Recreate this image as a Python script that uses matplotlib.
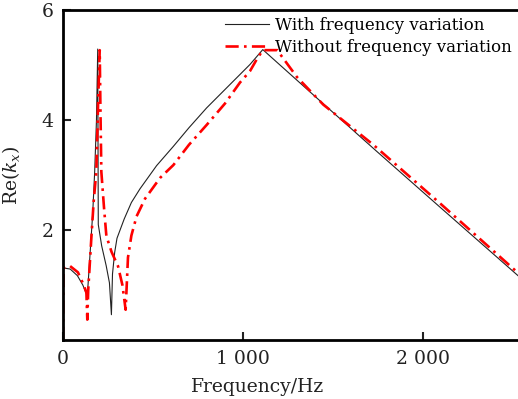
import numpy as np
import matplotlib.pyplot as plt
from matplotlib.ticker import FuncFormatter

# with frequency variation (black)
f_with = [0, 3, 40, 80, 110, 135, 150, 165, 176, 186, 193, 196, 215, 240, 258, 269,
          275, 287, 300, 340, 380, 428, 520, 613, 700, 798, 920, 1039, 1110,
          1400, 1743, 2100, 2528]
k_with = [0.0, 1.31, 1.29, 1.17, 1.0, 0.80, 1.55, 2.3, 3.06, 4.0, 5.29, 2.1, 1.71, 1.35, 1.04, 0.46,
          1.2, 1.59, 1.85, 2.2, 2.5, 2.75, 3.17, 3.52, 3.86, 4.22, 4.62, 5.01, 5.28,
          4.43, 3.43, 2.40, 1.17]

# without frequency variation (red)
f_without = [0, 3, 37, 83, 115, 130, 135, 140, 157, 170, 185, 195, 204, 208, 213, 228, 241,
             270, 306, 330, 348, 361, 380, 409, 456, 540, 613, 700, 798, 900, 983, 1039,
             1076, 1110, 1190, 1300, 1446, 1724, 2100, 2528]
k_without = [0.0, 1.31, 1.35, 1.23, 1.0, 0.86, 0.37, 0.9, 1.83, 2.5, 3.06, 4.3, 5.27, 4.2, 3.06, 2.4, 1.89,
             1.6, 1.34, 1.0, 0.55, 1.5, 1.9, 2.25, 2.57, 2.95, 3.18, 3.55, 3.91, 4.3, 4.68, 4.89,
             5.10, 5.27, 5.27, 4.78, 4.28, 3.55, 2.47, 1.22]

xticks = [0, 1000, 2000]
yticks = [2, 4, 6]

plt.rcParams['font.family'] = 'DejaVu Serif'
plt.rcParams['mathtext.fontset'] = 'dejavuserif'

fig = plt.figure(figsize=(5.18, 3.99), dpi=100)
ax = fig.add_axes([63 / 518, 59 / 399, 455 / 518, 330 / 399])

ax.plot(f_with, k_with, color='#222222', lw=0.8, label='With frequency variation')
ax.plot(f_without, k_without, color='red', lw=1.9, linestyle=(0, (5, 2, 1, 2)),
        label='Without frequency variation')

ax.set_xlim(0, 2528)
ax.set_ylim(0, 6)
ax.set_xticks(xticks)
ax.set_yticks(yticks)
ax.xaxis.set_major_formatter(FuncFormatter(lambda v, p: '{:,}'.format(int(v)).replace(',', ' ')))
ax.tick_params(direction='in', length=6, width=1.5, labelsize=13.5, pad=7, colors='#222222')

for s in ['left', 'bottom', 'top']:
    ax.spines[s].set_linewidth(2)
ax.spines['right'].set_visible(False)

ax.set_xlabel('Frequency/Hz', fontsize=13.5, color='#222222')
ax.xaxis.set_label_coords(0.4286, -0.115)
ax.set_ylabel(r'Re$(k_x)$', fontsize=13.5, color='#222222')
ax.yaxis.set_label_coords(-0.09, 0.5)

ax.legend(loc='upper right', bbox_to_anchor=(1.005, 1.005), frameon=False, fontsize=12,
          handlelength=2.6, handletextpad=0.4, labelspacing=0.3, borderaxespad=0.1)

fig.savefig('out.png', dpi=100)
